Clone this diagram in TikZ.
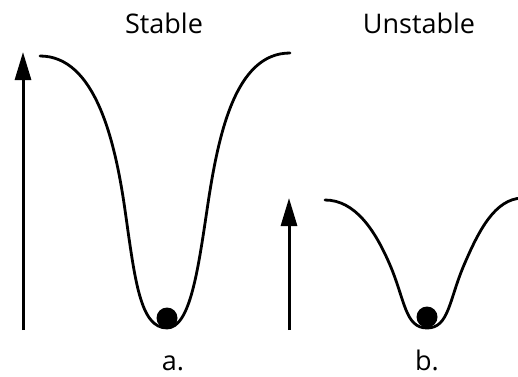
\documentclass[tikz,border=0pt]{standalone}
\usepackage{fontspec}
\setmainfont{Open Sans}
\usepackage{tikz}
\usetikzlibrary{arrows.meta}
\tikzset{
  well/.style={line width=2.8pt, line cap=round},
  lift/.style={line width=3pt, -{Triangle[length=28pt, width=16pt]}},
  ball/.style={circle, fill=black, minimum size=21pt, inner sep=0pt},
  caption/.style={anchor=base, inner sep=0pt, font=\fontsize{27}{30}\selectfont}
}

\begin{document}
\begin{tikzpicture}[x=1pt, y=-1pt]
        \useasboundingbox (0,0) rectangle (518,376);
        % captions
        \node[caption] (stable) at (164,33) {Stable};
        \node[caption] (unstable) at (419,33) {Unstable};
        \node[caption] (tagA) at (173,370) {a.};
        \node[caption] (tagB) at (427,370) {b.};
        % arrows
        \coordinate (footA) at (23,330);
        \coordinate (topA) at (23,52);
        \coordinate (footB) at (289,330);
        \coordinate (topB) at (289,198);
        \draw[lift] (footA) -- (topA);
        \draw[lift] (footB) -- (topB);
        % deep well
        \draw[well] (40,56) .. controls (95,56) and (115,140) .. (125,210)
            .. controls (135,280) and (140,328) .. (167,328)
            .. controls (190,328) and (198,270) .. (207,210)
            .. controls (218,135) and (235,53) .. (290,53);
        % shallow well
        \draw[well] (325,200) .. controls (355,200) and (375,230) .. (390,265)
            .. controls (405,300) and (405,328) .. (427,328)
            .. controls (449,328) and (449,300) .. (464,265)
            .. controls (479,230) and (495,199) .. (522,198);
        % balls
        \node[ball] (ballA) at (167,318) {};
        \node[ball] (ballB) at (427,317) {};
    \end{tikzpicture}
\end{document}
